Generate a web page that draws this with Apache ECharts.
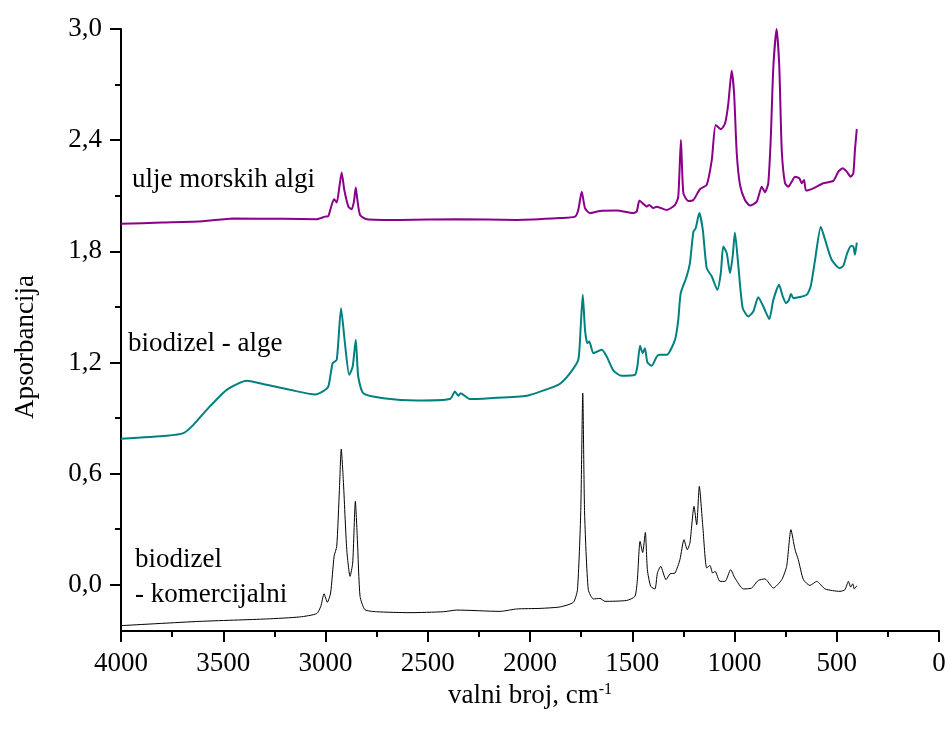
<!DOCTYPE html>
<html>
<head>
<meta charset="utf-8">
<script src="https://cdn.jsdelivr.net/npm/echarts@6/dist/echarts.min.js"></script>
<style>
  html, body { margin: 0; padding: 0; background: #fff; }
  #chart { width: 949px; height: 736px; }
</style>
</head>
<body>
<div id="chart"></div>
<script>
// FTIR spektri - valni broj (cm-1) i apsorbancija
var oilWn = [4000, 3800, 3600, 3451, 3200, 3043, 3002, 2986, 2970, 2958, 2945, 2932, 2921, 2908, 2888, 2872, 2861, 2852, 2844, 2831, 2798, 2636, 2358, 2065, 1853, 1780, 1764, 1747, 1731, 1707, 1658, 1576, 1496, 1478, 1465, 1446, 1429, 1417, 1397, 1380, 1331, 1291, 1275, 1262, 1250, 1226, 1201, 1169, 1136, 1111, 1092, 1066, 1046, 1030, 1014, 1002, 989, 973, 949, 924, 891, 867, 851, 835, 823, 810, 794, 781, 769, 753, 737, 720, 704, 683, 671, 660, 650, 615, 566, 517, 492, 471, 451, 432, 419, 411, 402];
var oilAbs = [1.948, 1.955, 1.962, 1.977, 1.975, 1.973, 1.987, 1.990, 2.050, 2.081, 2.063, 2.149, 2.225, 2.131, 2.041, 2.027, 2.068, 2.144, 2.077, 1.996, 1.973, 1.969, 1.973, 1.969, 1.979, 1.987, 2.023, 2.122, 2.033, 2.006, 2.018, 2.020, 2.006, 2.015, 2.074, 2.056, 2.041, 2.050, 2.033, 2.041, 2.023, 2.050, 2.095, 2.401, 2.114, 2.072, 2.077, 2.135, 2.158, 2.293, 2.482, 2.459, 2.491, 2.600, 2.775, 2.653, 2.329, 2.158, 2.077, 2.047, 2.068, 2.149, 2.119, 2.167, 2.401, 2.797, 3.000, 2.797, 2.347, 2.167, 2.149, 2.176, 2.203, 2.194, 2.167, 2.185, 2.128, 2.140, 2.167, 2.180, 2.230, 2.248, 2.230, 2.203, 2.221, 2.347, 2.459];

var algaeWn = [4000, 3777, 3695, 3646, 3581, 3483, 3385, 3288, 3174, 3051, 3011, 2986, 2965, 2945, 2924, 2905, 2884, 2867, 2852, 2840, 2815, 2717, 2554, 2391, 2367, 2351, 2339, 2293, 2196, 2016, 1902, 1853, 1804, 1764, 1752, 1742, 1731, 1720, 1710, 1690, 1649, 1625, 1592, 1552, 1487, 1475, 1462, 1449, 1438, 1426, 1405, 1380, 1364, 1331, 1291, 1275, 1263, 1234, 1218, 1201, 1190, 1172, 1155, 1136, 1111, 1084, 1067, 1055, 1038, 1022, 1009, 998, 981, 960, 932, 908, 884, 859, 830, 810, 782, 764, 748, 735, 724, 712, 647, 627, 606, 578, 557, 525, 487, 468, 448, 430, 419, 411, 402];
var algaeAbs = [0.788, 0.804, 0.818, 0.863, 0.944, 1.052, 1.101, 1.079, 1.052, 1.027, 1.045, 1.070, 1.196, 1.214, 1.493, 1.304, 1.133, 1.178, 1.322, 1.124, 1.034, 1.007, 0.994, 1.002, 1.043, 1.020, 1.034, 1.002, 1.007, 1.020, 1.061, 1.085, 1.142, 1.214, 1.394, 1.565, 1.376, 1.304, 1.313, 1.250, 1.268, 1.232, 1.156, 1.128, 1.133, 1.178, 1.290, 1.250, 1.277, 1.200, 1.182, 1.232, 1.241, 1.241, 1.322, 1.430, 1.574, 1.664, 1.736, 1.906, 1.924, 2.006, 1.916, 1.709, 1.664, 1.592, 1.682, 1.826, 1.790, 1.682, 1.772, 1.901, 1.718, 1.493, 1.448, 1.475, 1.552, 1.502, 1.434, 1.538, 1.619, 1.556, 1.520, 1.534, 1.570, 1.547, 1.565, 1.613, 1.754, 1.933, 1.862, 1.754, 1.709, 1.721, 1.793, 1.829, 1.826, 1.781, 1.847];

var commWn = [4000, 3614, 3288, 3125, 3043, 3023, 3007, 2991, 2975, 2958, 2945, 2932, 2923, 2913, 2896, 2880, 2867, 2854, 2844, 2831, 2807, 2750, 2587, 2424, 2358, 2147, 2065, 1951, 1853, 1788, 1768, 1752, 1742, 1733, 1715, 1690, 1658, 1633, 1527, 1487, 1475, 1462, 1449, 1436, 1426, 1410, 1389, 1377, 1361, 1335, 1315, 1291, 1267, 1247, 1231, 1218, 1198, 1185, 1172, 1155, 1136, 1120, 1107, 1095, 1071, 1046, 1019, 998, 957, 916, 884, 851, 810, 769, 745, 724, 704, 688, 663, 631, 598, 557, 484, 460, 443, 432, 422, 414, 402];
var commAbs = [-0.221, -0.198, -0.185, -0.174, -0.156, -0.117, -0.049, -0.095, -0.045, 0.153, 0.207, 0.513, 0.732, 0.567, 0.189, 0.045, 0.117, 0.450, 0.243, -0.063, -0.135, -0.146, -0.151, -0.146, -0.137, -0.144, -0.131, -0.128, -0.120, -0.095, -0.027, 0.387, 1.034, 0.387, -0.027, -0.077, -0.074, -0.090, -0.085, -0.063, 0.027, 0.234, 0.174, 0.282, 0.081, -0.009, -0.023, 0.063, 0.099, 0.027, 0.059, 0.063, 0.135, 0.243, 0.189, 0.225, 0.423, 0.324, 0.531, 0.315, 0.090, 0.104, 0.063, 0.072, 0.018, 0.018, 0.081, 0.036, -0.023, -0.018, 0.023, 0.031, -0.018, 0.027, 0.099, 0.297, 0.189, 0.135, 0.027, -0.004, 0.018, -0.023, -0.036, -0.027, 0.018, -0.013, 0.005, -0.023, -0.005];

var yTicks = [0, 0.6, 1.2, 1.8, 2.4, 3.0];
var yMinorTicks = [0.3, 0.9, 1.5, 2.1, 2.7];

function pairs(xs, ys) {
  var out = [];
  for (var i = 0; i < xs.length; i++) out.push([xs[i], ys[i]]);
  return out;
}
function fmt(v) {
  return v.toFixed(1).replace('.', ',');
}

var FONT = 'Liberation Serif';

var myChart = echarts.init(document.getElementById('chart'));
var option = {
  animation: false,
  backgroundColor: '#fff',
  grid: { left: 121, right: 10, top: 29, bottom: 105, containLabel: false },
  xAxis: {
    type: 'value',
    inverse: true,
    min: 0,
    max: 4000,
    interval: 500,
    name: 'valni broj, cm{sup|-1}',
    nameLocation: 'middle',
    nameGap: 45,
    nameTextStyle: {
      fontFamily: FONT, fontSize: 27, color: '#000',
      rich: { sup: { fontFamily: FONT, fontSize: 16, color: '#000', verticalAlign: 'top', padding: [0, 0, 12, 0] } }
    },
    axisLine: { show: true, onZero: false, lineStyle: { color: '#000', width: 2 } },
    axisTick: { show: true, inside: false, length: 11, lineStyle: { color: '#000', width: 2 } },
    minorTick: { show: true, splitNumber: 2, length: 6, lineStyle: { color: '#000', width: 2 } },
    axisLabel: { fontFamily: FONT, fontSize: 27, color: '#000', margin: 19, formatter: function (v) { return String(v); } },
    splitLine: { show: false }
  },
  yAxis: [
    {
      type: 'value',
      min: -0.25,
      max: 3.0,
      name: 'Apsorbancija',
      nameLocation: 'middle',
      nameGap: 82,
      nameTextStyle: { fontFamily: FONT, fontSize: 27, color: '#000', padding: [0, 34, 0, 0] },
      axisLine: { show: true, onZero: false, lineStyle: { color: '#000', width: 2 } },
      axisTick: { show: true, length: 11, customValues: yTicks, lineStyle: { color: '#000', width: 2 } },
      axisLabel: { fontFamily: FONT, fontSize: 27, color: '#000', margin: 19, customValues: yTicks, formatter: fmt },
      splitLine: { show: false }
    },
    {
      type: 'value',
      min: -0.25,
      max: 3.0,
      position: 'left',
      axisLine: { show: false, onZero: false },
      axisTick: { show: true, length: 6, customValues: yMinorTicks, lineStyle: { color: '#000', width: 2 } },
      axisLabel: { show: false },
      splitLine: { show: false }
    }
  ],
  series: [
    {
      name: 'ulje morskih algi',
      type: 'line',
      data: pairs(oilWn, oilAbs),
      showSymbol: false,
      smooth: 0.2,
      lineStyle: { color: '#8b008b', width: 2 },
      z: 3
    },
    {
      name: 'biodizel - alge',
      type: 'line',
      data: pairs(algaeWn, algaeAbs),
      showSymbol: false,
      smooth: 0.2,
      lineStyle: { color: '#008080', width: 2 },
      z: 3
    },
    {
      name: 'biodizel - komercijalni',
      type: 'line',
      data: pairs(commWn, commAbs),
      showSymbol: false,
      smooth: 0.2,
      lineStyle: { color: '#000', width: 1 },
      z: 3
    }
  ],
  graphic: [
    { type: 'text', left: 132, top: 166, style: { text: 'ulje morskih algi', font: '27px "Liberation Serif"', fill: '#000' } },
    { type: 'text', left: 128, top: 330, style: { text: 'biodizel - alge', font: '27px "Liberation Serif"', fill: '#000' } },
    { type: 'text', left: 135, top: 546, style: { text: 'biodizel', font: '27px "Liberation Serif"', fill: '#000' } },
    { type: 'text', left: 135, top: 581, style: { text: '- komercijalni', font: '27px "Liberation Serif"', fill: '#000' } }
  ]
};
myChart.setOption(option);
</script>
</body>
</html>
